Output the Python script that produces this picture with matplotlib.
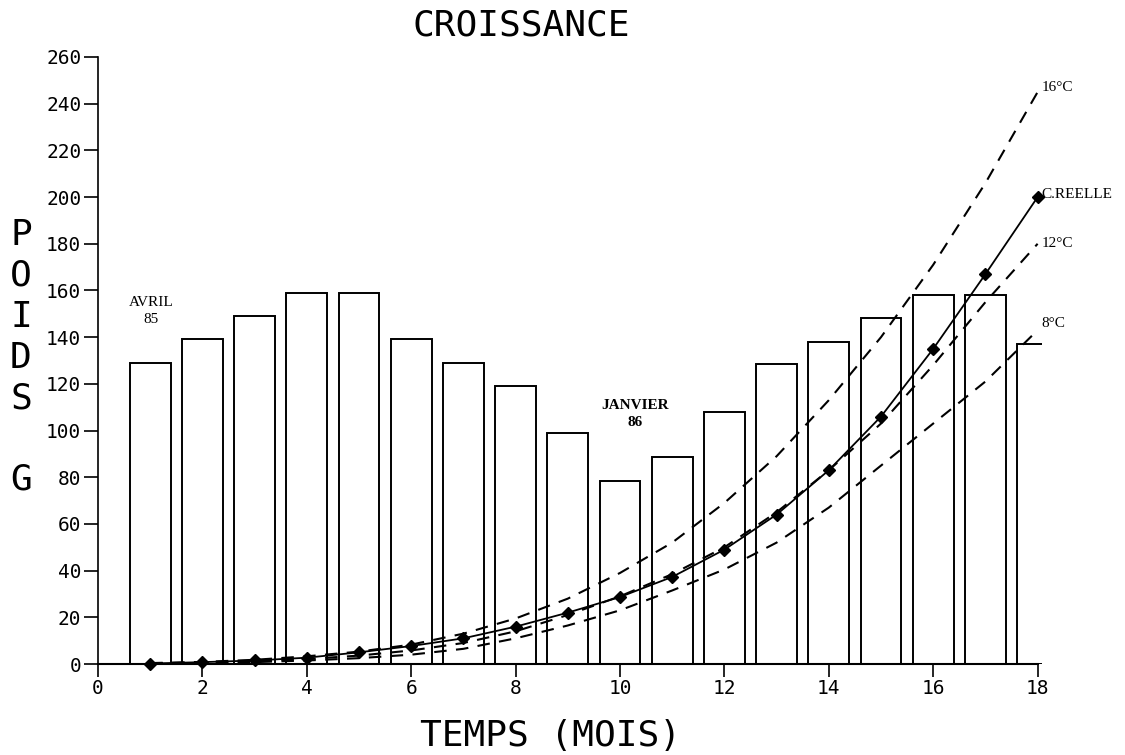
import matplotlib
matplotlib.use("Agg")
import matplotlib.pyplot as plt

# ----------------------------
# Donnees
# ----------------------------
months = [1, 2, 3, 4, 5, 6, 7, 8, 9, 10, 11, 12, 13, 14, 15, 16, 17, 18]
bar_heights = [129, 139, 149, 159, 159, 139, 129, 119, 99, 78.5, 88.5, 108,
               128.5, 138, 148, 158, 158, 137]

poids_reel = [0.2, 0.8, 1.5, 2.7, 5, 7.7, 11, 16, 22, 28.7, 37.3, 49,
              64, 83, 106, 135, 167, 200]
poids_16 = [0.4, 0.9, 1.8, 3.3, 5.3, 8.3, 13, 19.5, 28, 39, 52, 69,
            89, 113, 140, 171, 206, 245]
poids_12 = [0.3, 0.6, 1.2, 2.1, 3.6, 5.8, 9, 14, 21, 29, 38.5, 50,
            65, 83, 103, 128, 155, 180]
poids_8 = [0.2, 0.4, 0.8, 1.5, 2.5, 4, 6.5, 11, 16.5, 23, 31.5, 40.5,
           52, 67, 85, 103, 121, 143]

curve_labels = ["16°C", "C.REELLE", "12°C", "8°C"]
x_ticks = [0, 2, 4, 6, 8, 10, 12, 14, 16, 18]
y_ticks = list(range(0, 261, 20))

mono = "DejaVu Sans Mono"
serif = "Liberation Serif"

# ----------------------------
# Figure
# ----------------------------
fig = plt.figure(figsize=(11.25, 7.55), dpi=100)
ax = fig.add_axes([98 / 1125, 91 / 755, 943.8 / 1125, 607 / 755])

ax.bar(months, bar_heights, width=0.78, facecolor="white", edgecolor="black",
       linewidth=1.4, zorder=1)

dash = (6, 4.5)
for serie in (poids_16, poids_12, poids_8):
    ax.plot(months, serie, color="black", linewidth=1.5, dashes=dash,
            zorder=2, clip_on=False)

ax.plot(months, poids_reel, color="black", linewidth=1.3, marker="D",
        markersize=6.5, zorder=3, clip_on=False)

# etiquettes des courbes
ends = [poids_16[-1], poids_reel[-1], poids_12[-1], poids_8[-1]]
offs = [2, 1, 0, 3]
for lab, yv, dy in zip(curve_labels, ends, offs):
    ax.text(months[-1] + 0.08, yv + dy, lab, family=serif, fontsize=11,
            ha="left", va="center", clip_on=False)

ax.text(1.02, 151, "AVRIL\n85", family=serif, fontsize=11, ha="center",
        va="center", linespacing=1.4)
ax.text(10.28, 107, "JANVIER\n86", family=serif, fontsize=11,
        fontweight="bold", ha="center", va="center", linespacing=1.4)

# axes
ax.set_xlim(0, 18.08)
ax.set_ylim(0, 260)
for s in ("top", "right"):
    ax.spines[s].set_visible(False)
ax.spines["left"].set_bounds(0, 260)
ax.spines["bottom"].set_bounds(0, 18)
ax.spines["left"].set_linewidth(1.2)
ax.spines["bottom"].set_linewidth(1.5)

ax.set_xticks(x_ticks)
ax.set_yticks(y_ticks)
ax.tick_params(axis="y", direction="out", length=10, width=1.2, pad=2,
               labelsize=14)
ax.tick_params(axis="x", direction="out", length=9, width=1.2, pad=2,
               labelsize=14)
for lbl in ax.get_xticklabels() + ax.get_yticklabels():
    lbl.set_family(mono)

fig.text(0.463, 1 - 26 / 755, "CROISSANCE", family=mono, fontsize=26,
         ha="center", va="center")
fig.text(0.489, 1 - 736 / 755, "TEMPS (MOIS)", family=mono, fontsize=26,
         ha="center", va="center")
fig.text(21 / 1125, 1 - 357.5 / 755, "P\nO\nI\nD\nS\n\nG", family=mono,
         fontsize=26, ha="center", va="center", linespacing=1.25)

fig.savefig("out.png", dpi=100)
